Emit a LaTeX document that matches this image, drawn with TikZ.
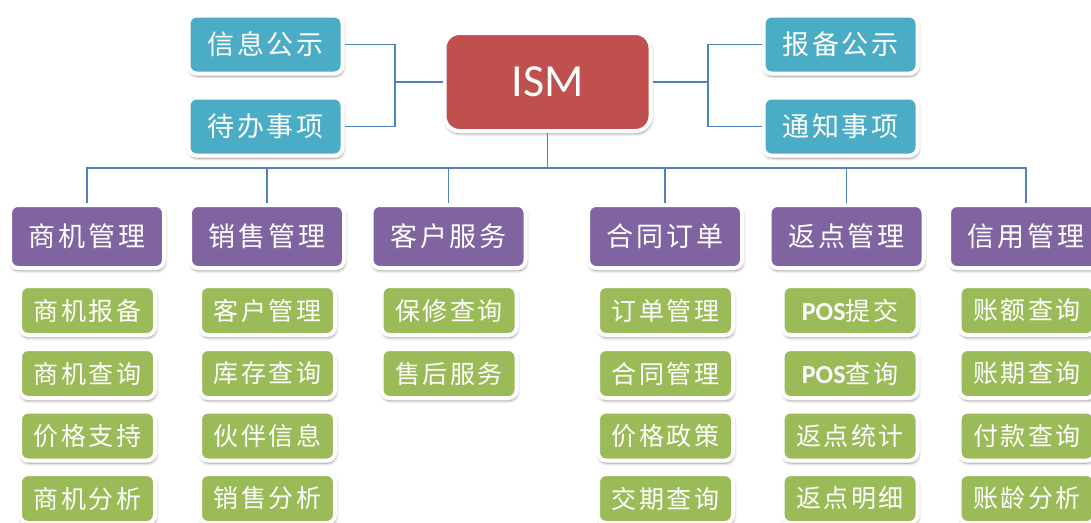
\documentclass[tikz,border=0pt]{standalone}
\usepackage{fontspec}
\newfontfamily\cjkfont[LetterSpace=10]{Noto Sans CJK SC}
\newfontfamily\latfont{Carlito}
\usetikzlibrary{shadows.blur}
\definecolor{tealfive}{HTML}{4BACC6}
\definecolor{redtwo}{HTML}{C0504D}
\definecolor{purpfour}{HTML}{8064A2}
\definecolor{grnthree}{HTML}{9BBB59}
\definecolor{lineone}{HTML}{4F81BD}
\tikzset{
  basebox/.style={rounded corners=8pt, draw=white, line width=4pt, text=white, inner sep=0pt,
    blur shadow={shadow xshift=0.8pt, shadow yshift=-2.5pt, shadow blur steps=6, shadow blur radius=3pt, shadow opacity=45}},
  topbox/.style={basebox, fill=tealfive, minimum width=154pt, minimum height=58pt, font=\cjkfont\fontsize{27}{30}\selectfont},
  rootbox/.style={basebox, fill=redtwo, rounded corners=15pt, minimum width=206pt, minimum height=98pt, font=\latfont\fontsize{46}{50}\selectfont},
  catbox/.style={basebox, fill=purpfour, minimum width=154pt, minimum height=63pt, font=\cjkfont\fontsize{27}{30}\selectfont},
  itembox/.style={basebox, fill=grnthree, minimum width=135pt, minimum height=49pt, font=\cjkfont\fontsize{25}{28}\selectfont},
  link/.style={draw=lineone, line width=1.2pt},
}
\newcommand{\posfont}{\latfont\bfseries\fontsize{26}{28}\selectfont}
\begin{document}
\begin{tikzpicture}[x=1pt,y=-1pt]
\useasboundingbox (0,0) rectangle (1091,522);
% coordinates for junctions
\coordinate (lj) at (395,82);
\coordinate (rj) at (708,82);
\coordinate (bus) at (547.5,168);
% nodes
\node[rootbox] (root) at (547.5,82) {ISM};
\node[topbox] (a1) at (265.5,44.5) {信息公示};
\node[topbox] (a2) at (265.5,126.5) {待办事项};
\node[topbox] (a3) at (840.5,44.5) {报备公示};
\node[topbox] (a4) at (840.5,126.5) {通知事项};
% categories
\node[catbox] (c1) at (87,236.5) {商机管理};
\node[catbox] (c2) at (267,236.5) {销售管理};
\node[catbox] (c3) at (448.5,236.5) {客户服务};
\node[catbox] (c4) at (665,236.5) {合同订单};
\node[catbox] (c5) at (846.5,236.5) {返点管理};
\node[catbox] (c6) at (1026,236.5) {信用管理};
% items
\node[itembox] (i11) at (87.5,310.5) {商机报备};
\node[itembox] (i12) at (87.5,373.5) {商机查询};
\node[itembox] (i13) at (87.5,436) {价格支持};
\node[itembox] (i14) at (87.5,498.5) {商机分析};
\node[itembox] (i21) at (267.5,310.5) {客户管理};
\node[itembox] (i22) at (267.5,373.5) {库存查询};
\node[itembox] (i23) at (267.5,436) {伙伴信息};
\node[itembox] (i24) at (267.5,498.5) {销售分析};
\node[itembox] (i31) at (449,310.5) {保修查询};
\node[itembox] (i32) at (449,373.5) {售后服务};
\node[itembox] (i41) at (665.5,310.5) {订单管理};
\node[itembox] (i42) at (665.5,373.5) {合同管理};
\node[itembox] (i43) at (665.5,436) {价格政策};
\node[itembox] (i44) at (665.5,498.5) {交期查询};
\node[itembox] (i51) at (850,310.5) {{\posfont POS}提交};
\node[itembox] (i52) at (850,373.5) {{\posfont POS}查询};
\node[itembox] (i53) at (850,436) {返点统计};
\node[itembox] (i54) at (850,498.5) {返点明细};
\node[itembox] (i61) at (1027,310.5) {账额查询};
\node[itembox] (i62) at (1027,373.5) {账期查询};
\node[itembox] (i63) at (1027,436) {付款查询};
\node[itembox] (i64) at (1027,498.5) {账龄分析};
% connectors
\draw[link] (a1.east) -| (lj) |- (a2.east);
\draw[link] (lj) -- (root.west);
\draw[link] (a3.west) -| (rj) |- (a4.west);
\draw[link] (rj) -- (root.east);
\draw[link] (root.south) -- (bus);
\foreach \c in {c1,c2,c3,c4,c5,c6}{\draw[link] (bus) -| (\c.north);}
\end{tikzpicture}
\end{document}
